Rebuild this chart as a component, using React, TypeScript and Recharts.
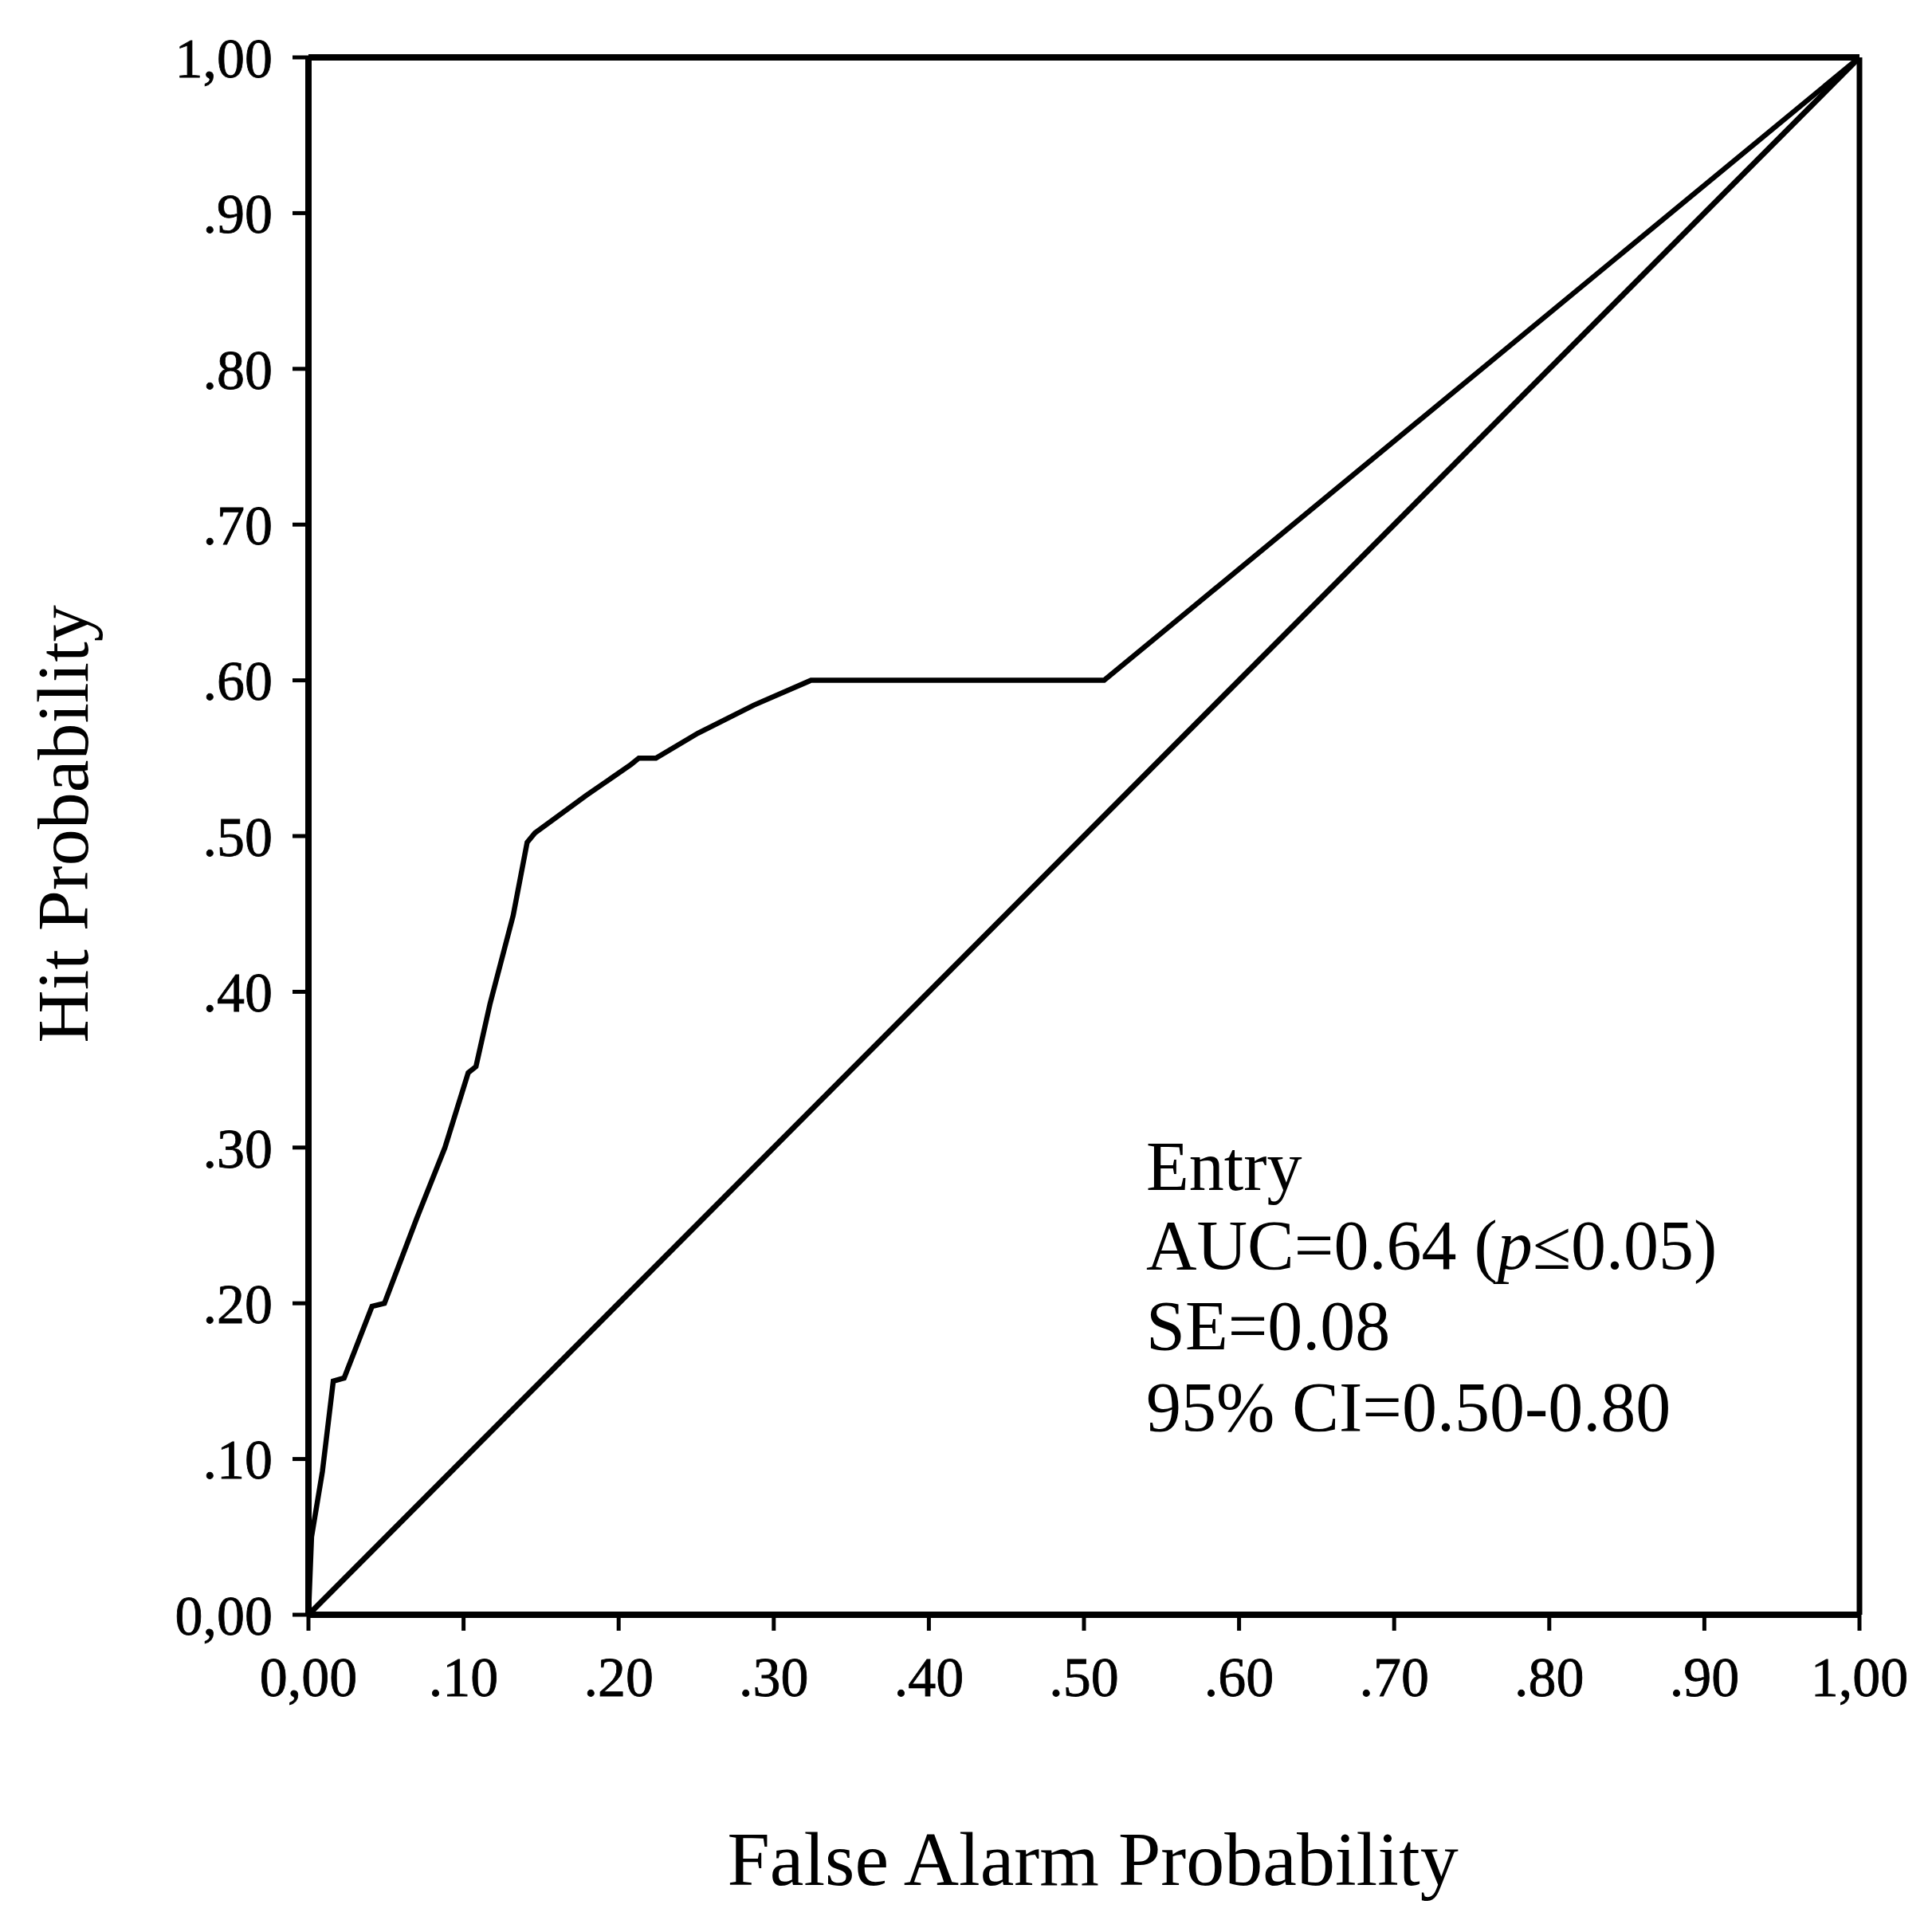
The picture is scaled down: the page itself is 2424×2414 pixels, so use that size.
import { LineChart, Line, XAxis, YAxis, ReferenceLine } from 'recharts'

// ROC curve (false alarm vs hit probability)
const rocFalseAlarm = [0, 0.002, 0.009, 0.016, 0.023, 0.041, 0.049, 0.07, 0.088, 0.103, 0.108, 0.117, 0.132, 0.141, 0.146, 0.179, 0.208, 0.213, 0.224, 0.251, 0.287, 0.324, 0.513, 1]
const rocHit = [0, 0.05, 0.092, 0.15, 0.152, 0.198, 0.2, 0.255, 0.3, 0.348, 0.352, 0.392, 0.449, 0.496, 0.502, 0.526, 0.546, 0.55, 0.55, 0.566, 0.584, 0.6, 0.6, 1]

// chance diagonal
const chanceFalseAlarm = [0, 1]
const chanceHit = [0, 1]

const tickValues = [0, 0.1, 0.2, 0.3, 0.4, 0.5, 0.6, 0.7, 0.8, 0.9, 1]
const tickLabels = ['0,00', '.10', '.20', '.30', '.40', '.50', '.60', '.70', '.80', '.90', '1,00']

const rocData = rocFalseAlarm.map((x, i) => ({ x, y: rocHit[i] }))
const chanceData = chanceFalseAlarm.map((x, i) => ({ x, y: chanceHit[i] }))

const FONT = '"Liberation Serif", "Times New Roman", serif'
const tickStyle = { fontSize: 70, fontFamily: FONT, fill: '#000', stroke: '#000', strokeWidth: 0.8 }

export default function App() {
  return (
    <div style={{ position: 'absolute', left: 0, top: 0, width: 2424, height: 2414, background: '#fff' }}>
      <LineChart width={2424} height={2414} margin={{ top: 72, right: 91, bottom: 238, left: 87 }}>
        <XAxis
          type="number"
          dataKey="x"
          domain={[0, 1]}
          ticks={tickValues}
          tickFormatter={(v, i) => tickLabels[i]}
          height={150}
          tickSize={20}
          tickMargin={32}
          tick={tickStyle}
          axisLine={{ stroke: '#000', strokeWidth: 8 }}
          tickLine={{ stroke: '#000', strokeWidth: 5 }}
          interval={0}
        />
        <YAxis
          type="number"
          dataKey="y"
          domain={[0, 1]}
          ticks={tickValues}
          tickFormatter={(v, i) => tickLabels[i]}
          width={300}
          tickSize={20}
          tickMargin={25}
          tick={tickStyle}
          axisLine={{ stroke: '#000', strokeWidth: 8 }}
          tickLine={{ stroke: '#000', strokeWidth: 5 }}
          interval={0}
        />
        <ReferenceLine y={1} stroke="#000" strokeWidth={8} />
        <ReferenceLine x={1} stroke="#000" strokeWidth={7} />
        <Line data={chanceData} dataKey="y" type="linear" stroke="#000" strokeWidth={7} dot={false} isAnimationActive={false} />
        <Line data={rocData} dataKey="y" type="linear" stroke="#000" strokeWidth={6.5} dot={false} isAnimationActive={false} />
      </LineChart>
      <svg width={2424} height={2414} style={{ position: 'absolute', left: 0, top: 0, pointerEvents: 'none' }}>
        <text x={110} y={1034} transform="rotate(-90 110 1034)" textAnchor="middle" fontFamily={FONT} fontSize={92} fill="#000">
          Hit Probability
        </text>
        <text x={1371} y={2365} textAnchor="middle" fontFamily={FONT} fontSize={96} fill="#000">
          False Alarm Probability
        </text>
        <g fontFamily={FONT} fontSize={88} fill="#000">
          <text x={1438} y={1493}>Entry</text>
          <text x={1438} y={1592}>
            AUC=0.64 (<tspan fontStyle="italic">p</tspan>≤0.05)
          </text>
          <text x={1438} y={1693}>SE=0.08</text>
          <text x={1438} y={1795}>95% CI=0.50-0.80</text>
        </g>
      </svg>
    </div>
  )
}
